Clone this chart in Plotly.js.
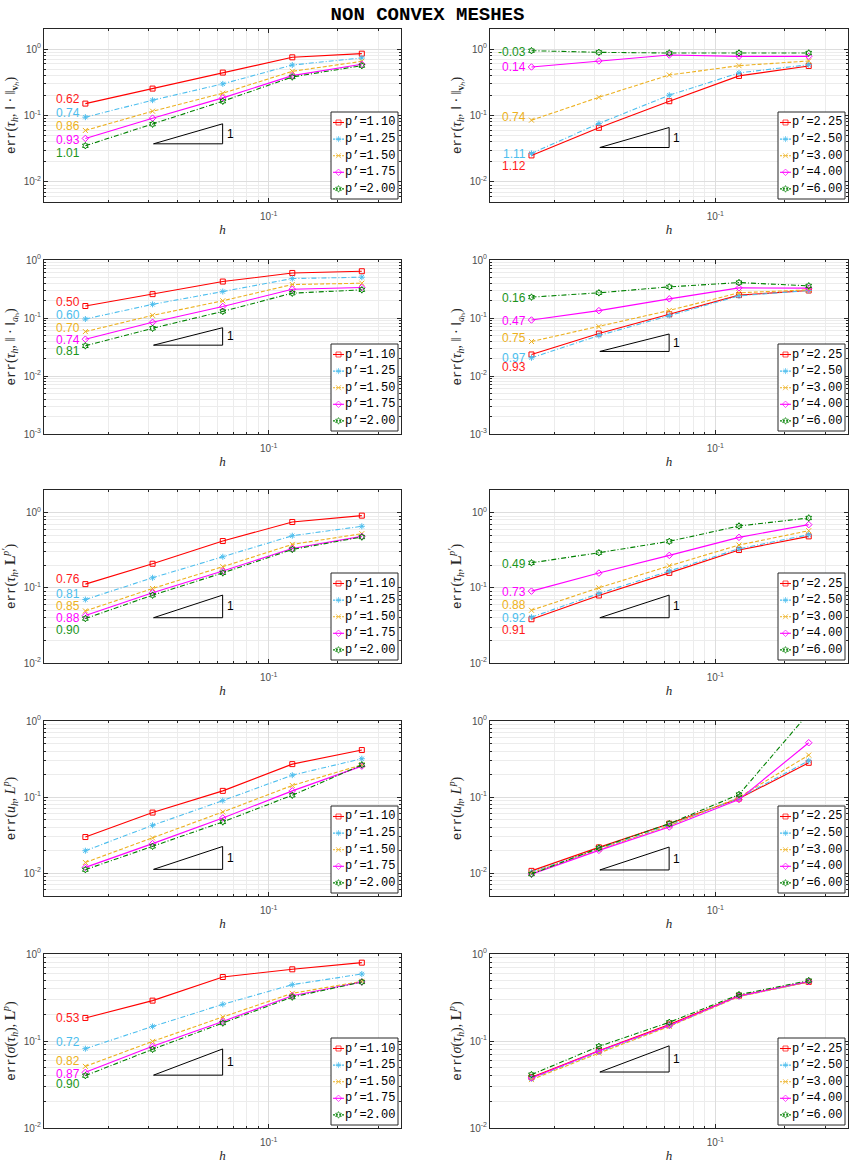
<!DOCTYPE html>
<html>
<head>
<meta charset="utf-8">
<script src="https://cdn.plot.ly/plotly-3.0.1.min.js"></script>
<style>html,body{margin:0;padding:0;background:#fff;}</style>
</head>
<body>
<div id="chart" style="width:855px;height:1164px;"></div>
<script>
// mesh sizes
const h = [0.0159, 0.0312, 0.0631, 0.1267, 0.2545];

// legend names
const lowP  = ['p’=1.10', 'p’=1.25', 'p’=1.50', 'p’=1.75', 'p’=2.00'];
const highP = ['p’=2.25', 'p’=2.50', 'p’=3.00', 'p’=4.00', 'p’=6.00'];

// errors: one row per p' value, one column per mesh size
const errVhLow = [
  [0.151, 0.254, 0.442, 0.750, 0.851],
  [0.0944, 0.170, 0.299, 0.575, 0.733],
  [0.0596, 0.116, 0.216, 0.462, 0.653],
  [0.0452, 0.0912, 0.184, 0.398, 0.589],
  [0.0351, 0.0741, 0.164, 0.380, 0.562]];
const errVhHigh = [
  [0.0251, 0.0653, 0.164, 0.394, 0.556],
  [0.0269, 0.0759, 0.202, 0.437, 0.582],
  [0.0851, 0.188, 0.407, 0.562, 0.661],
  [0.537, 0.661, 0.813, 0.776, 0.776],
  [0.944, 0.891, 0.871, 0.871, 0.871]];
const errAhLow = [
  [0.161, 0.258, 0.425, 0.598, 0.640],
  [0.096, 0.172, 0.286, 0.479, 0.505],
  [0.0583, 0.111, 0.198, 0.378, 0.398],
  [0.0431, 0.0843, 0.158, 0.314, 0.336],
  [0.0331, 0.0665, 0.130, 0.268, 0.306]];
const errAhHigh = [
  [0.0235, 0.0539, 0.116, 0.248, 0.298],
  [0.0206, 0.0498, 0.110, 0.241, 0.298],
  [0.0393, 0.071, 0.135, 0.272, 0.306],
  [0.0924, 0.134, 0.214, 0.331, 0.327],
  [0.229, 0.272, 0.344, 0.408, 0.358]];
const errLpLow = [
  [0.112, 0.209, 0.419, 0.751, 0.912],
  [0.0699, 0.136, 0.259, 0.493, 0.658],
  [0.0493, 0.098, 0.191, 0.378, 0.525],
  [0.0427, 0.0858, 0.167, 0.334, 0.483],
  [0.039, 0.0798, 0.158, 0.324, 0.474]];
const errLpHigh = [
  [0.0382, 0.079, 0.158, 0.318, 0.483],
  [0.0407, 0.084, 0.167, 0.331, 0.509],
  [0.0503, 0.100, 0.196, 0.371, 0.575],
  [0.0903, 0.157, 0.270, 0.469, 0.692],
  [0.215, 0.293, 0.415, 0.664, 0.849]];
const errULow = [
  [0.0298, 0.0625, 0.1206, 0.271, 0.415],
  [0.0197, 0.0425, 0.0899, 0.194, 0.319],
  [0.0138, 0.029, 0.0637, 0.142, 0.265],
  [0.0119, 0.0244, 0.0531, 0.1206, 0.255],
  [0.0111, 0.0225, 0.0471, 0.1057, 0.265]];
const errUHigh = [
  [0.0107, 0.0218, 0.0447, 0.0955, 0.282],
  [0.0103, 0.0209, 0.0425, 0.0975, 0.300],
  [0.0100, 0.0205, 0.0417, 0.0995, 0.356],
  [0.0097, 0.0199, 0.0404, 0.0927, 0.518],
  [0.0097, 0.0214, 0.0447, 0.108, 1.27]];
const errSigLow = [
  [0.184, 0.291, 0.544, 0.667, 0.795],
  [0.0816, 0.147, 0.264, 0.444, 0.589],
  [0.0511, 0.099, 0.189, 0.353, 0.485],
  [0.0436, 0.0868, 0.168, 0.332, 0.477],
  [0.040, 0.0802, 0.161, 0.320, 0.477]];
const errSigHigh = [
  [0.0383, 0.0773, 0.155, 0.332, 0.478],
  [0.037, 0.0747, 0.149, 0.326, 0.478],
  [0.036, 0.0726, 0.147, 0.324, 0.478],
  [0.0376, 0.0766, 0.151, 0.329, 0.482],
  [0.0411, 0.0867, 0.164, 0.341, 0.495]];

// convergence rates printed next to the finest mesh
const rateVhLow   = ['0.62', '0.74', '0.86', '0.93', '1.01'];
const rateVhHigh  = ['1.12', '1.11', '0.74', '0.14', '-0.03'];
const rateAhLow   = ['0.50', '0.60', '0.70', '0.74', '0.81'];
const rateAhHigh  = ['0.93', '0.97', '0.75', '0.47', '0.16'];
const rateLpLow   = ['0.76', '0.81', '0.85', '0.88', '0.90'];
const rateLpHigh  = ['0.91', '0.92', '0.88', '0.73', '0.49'];
const rateSigLow  = ['0.53', '0.72', '0.82', '0.87', '0.90'];

// tick labels
const decadeText = {'0': '10<sup>0</sup>', '-1': '10<sup>-1</sup>', '-2': '10<sup>-2</sup>', '-3': '10<sup>-3</sup>'};
const xTickVals = [0.1];
const xTickText = ['10<sup>-1</sup>'];

// ---------- styling ----------
const W = 855, H = 1164;
const colors  = ['#ff0000', '#4dbeee', '#edb120', '#ff00ff', '#008000'];
const txtCol  = ['#ff1a1a', '#4dbeee', '#edb120', '#ff00ff', '#1a951a'];
const dashes  = ['solid', '5px,2px,1px,2px', '4px,2px', 'solid', '5px,2px,1px,2px'];
const symbols = ['square-open', 'asterisk-open', 'x-thin-open', 'diamond-open', 'hexagram-open'];

const colX = [[44, 401], [490, 848]];
const rowY = [[29, 202], [260, 434], [490, 663], [721, 896], [954, 1128]];
const xRange = [Math.log10(0.0105), Math.log10(0.377)];
const slopeX = [0.0315, 0.063];

// legend box geometry (px)
const LEG = {w: 67, h: 87, inset: 3, first: 10.5, step: 16.6, lineFrom: 2, lineTo: 13, textAt: 12.5};

const mono = "<span style='font-family:Liberation Mono, Courier New, monospace;font-size:12.5px'>err</span>";
const yTitles = [
  mono + '(<i>τ</i><sub><i>h</i></sub>, ‖ · ‖<sub><b>v</b><i>ₕ</i></sub>)',
  mono + '(<i>τ</i><sub><i>h</i></sub>, ‖ · ‖<sub><i>a</i>ₕ</sub>)',
  mono + '(<i>τ</i><sub><i>h</i></sub>, <b>L</b><sup><i>p′</i></sup>)',
  mono + '(<i>u</i><sub><i>h</i></sub>, <i>L</i><sup><i>p</i></sup>)',
  mono + '(<i>σ</i>(<i>τ</i><sub><i>h</i></sub>), <b>L</b><sup><i>p</i></sup>)'
];

// panel layout: data table, rate labels, vertical label offsets (px), y range, slope-triangle base
const panels = [
  {row: 0, col: 0, err: errVhLow,  names: lowP,  rates: rateVhLow,  shift: [4.7, 4, 4, -1.3, -7.3],   yr: [0.005, 2], tri: 0.0375},
  {row: 0, col: 1, err: errVhHigh, names: highP, rates: rateVhHigh, shift: [-10.7, -1, 3, 0, -1],    yr: [0.005, 2], tri: 0.033},
  {row: 1, col: 0, err: errAhLow,  names: lowP,  rates: rateAhLow,  shift: [4, 3.7, 3.3, -1, -5.3],   yr: [0.001, 1], tri: 0.034},
  {row: 1, col: 1, err: errAhHigh, names: highP, rates: rateAhHigh, shift: [-12.7, 0, 4, -1.3, -1],   yr: [0.001, 1], tri: 0.0265},
  {row: 2, col: 0, err: errLpLow,  names: lowP,  rates: rateLpLow,  shift: [5, 6, 5.3, -2, -11.3],    yr: [0.01, 2],  tri: 0.04},
  {row: 2, col: 1, err: errLpHigh, names: highP, rates: rateLpHigh, shift: [-10.7, -0.7, 5, -0.7, -1], yr: [0.01, 2], tri: 0.04},
  {row: 3, col: 0, err: errULow,   names: lowP,  rates: null,       shift: null,                      yr: [0.005, 1], tri: 0.0112},
  {row: 3, col: 1, err: errUHigh,  names: highP, rates: null,       shift: null,                      yr: [0.005, 1], tri: 0.011},
  {row: 4, col: 0, err: errSigLow, names: lowP,  rates: rateSigLow, shift: [0, 6.7, 5.7, -1.3, -8.3], yr: [0.01, 1],  tri: 0.0405},
  {row: 4, col: 1, err: errSigHigh,names: highP, rates: null,       shift: null,                      yr: [0.01, 1],  tri: 0.044}
];

const traces = [];
const legendTraces = [];
const annotations = [];
const layout = {
  width: W, height: H,
  margin: {l: 0, r: 0, t: 0, b: 0},
  paper_bgcolor: '#ffffff', plot_bgcolor: 'rgba(0,0,0,0)',
  showlegend: false,
  title: {
    text: 'NON CONVEX MESHES',
    font: {family: 'Liberation Mono, Courier New, monospace', size: 19, color: '#000000', weight: 'bold'},
    x: 0.5, xanchor: 'center', y: 1 - 13 / H, yanchor: 'middle'
  },
  annotations: annotations
};

function minorVals(lo, hi) {
  const out = [];
  for (let e = Math.floor(Math.log10(lo)); e <= Math.ceil(Math.log10(hi)); e++) {
    for (let m = 2; m <= 9; m++) {
      const v = m * Math.pow(10, e);
      if (v > lo && v < hi) out.push(v);
    }
  }
  return out;
}

// a full-page pixel frame used to draw the legend boxes on top of the panels
const PX = 'x11', PY = 'y11';
layout.xaxis11 = {domain: [0, 1], range: [0, W], visible: false, fixedrange: true, anchor: PY};
layout.yaxis11 = {domain: [0, 1], range: [H, 0], visible: false, fixedrange: true, anchor: PX};

panels.forEach((p, k) => {
  const n = k + 1;
  const xa = 'xaxis' + (n === 1 ? '' : n);
  const ya = 'yaxis' + (n === 1 ? '' : n);
  const xr = 'x' + (n === 1 ? '' : n);
  const yr = 'y' + (n === 1 ? '' : n);
  const [x0, x1] = colX[p.col];
  const [y0, y1] = rowY[p.row];

  const common = {
    type: 'log', showline: true, linecolor: '#262626', linewidth: 1, mirror: 'ticks',
    ticks: 'inside', ticklen: 4, tickcolor: '#262626', tickwidth: 1,
    showgrid: true, gridcolor: '#dddddd', gridwidth: 1, zeroline: false,
    tickfont: {family: 'Liberation Sans, Arial, sans-serif', size: 10, color: '#4d4d4d'},
    tickmode: 'array', fixedrange: true
  };

  const eLo = Math.ceil(Math.log10(p.yr[0]) - 1e-9), eHi = Math.floor(Math.log10(p.yr[1]) + 1e-9);
  const yv = [], yt = [];
  for (let e = eLo; e <= eHi; e++) { yv.push(Math.pow(10, e)); yt.push(decadeText[String(e)]); }

  layout[xa] = Object.assign({}, common, {
    domain: [x0 / W, x1 / W], anchor: yr, range: xRange,
    tickvals: xTickVals, ticktext: xTickText, ticklabelstandoff: 5,
    minor: {tickmode: 'array', tickvals: minorVals(0.0105, 0.377), ticks: 'inside', ticklen: 2,
            tickcolor: '#262626', showgrid: true, gridcolor: '#ececec', gridwidth: 1},
    title: {text: '<i>h</i>', font: {family: 'Liberation Serif, serif', size: 13, color: '#262626'}, standoff: 3}
  });
  layout[ya] = Object.assign({}, common, {
    domain: [1 - y1 / H, 1 - y0 / H], anchor: xr,
    range: [Math.log10(p.yr[0]), Math.log10(p.yr[1])],
    tickvals: yv, ticktext: yt,
    minor: {tickmode: 'array', tickvals: minorVals(p.yr[0], p.yr[1]), ticks: 'inside', ticklen: 2,
            tickcolor: '#262626', showgrid: true, gridcolor: '#ececec', gridwidth: 1},
    title: {text: yTitles[p.row], font: {family: 'Liberation Serif, serif', size: 14, color: '#262626'}, standoff: 4}
  });

  p.err.forEach((vals, i) => {
    traces.push({
      type: 'scatter', mode: 'lines+markers', x: h, y: vals, name: p.names[i],
      xaxis: xr, yaxis: yr,
      line: {color: colors[i], width: 1.1, dash: dashes[i]},
      marker: {symbol: symbols[i], size: 5, color: colors[i], line: {color: colors[i], width: 1}},
      hoverinfo: 'skip'
    });
  });

  // slope-one reference triangle
  const ratio = slopeX[1] / slopeX[0];
  traces.push({
    type: 'scatter', mode: 'lines', hoverinfo: 'skip',
    x: [slopeX[0], slopeX[1], slopeX[1], slopeX[0]],
    y: [p.tri, p.tri, p.tri * ratio, p.tri],
    xaxis: xr, yaxis: yr, line: {color: '#000000', width: 1}
  });
  annotations.push({
    xref: xr, yref: yr, x: Math.log10(slopeX[1]), y: Math.log10(p.tri * Math.sqrt(ratio)),
    text: '1', showarrow: false, xanchor: 'left', yanchor: 'middle', xshift: 2,
    font: {family: 'Liberation Sans, Arial, sans-serif', size: 12, color: '#000000'}
  });

  if (p.rates) {
    p.rates.forEach((r, i) => {
      annotations.push({
        xref: xr, yref: yr, x: Math.log10(h[0]), y: Math.log10(p.err[i][0]),
        text: r, showarrow: false, xanchor: 'right', yanchor: 'middle',
        xshift: -4, yshift: p.shift[i], borderpad: 0,
        font: {family: 'Liberation Sans, Arial, sans-serif', size: 12, color: txtCol[i]}
      });
    });
  }

  // legend box in the lower right corner of the panel
  const bx1 = x1 - LEG.inset, by1 = y1 - LEG.inset;
  const bx0 = bx1 - LEG.w, by0 = by1 - LEG.h;
  legendTraces.push({
    type: 'scatter', mode: 'lines', hoverinfo: 'skip', xaxis: PX, yaxis: PY,
    x: [bx0, bx1, bx1, bx0, bx0], y: [by0, by0, by1, by1, by0],
    fill: 'toself', fillcolor: '#ffffff', line: {color: '#262626', width: 1}
  });
  p.names.forEach((nm, i) => {
    const ly = by0 + LEG.first + i * LEG.step;
    const la = bx0 + LEG.lineFrom, lb = bx0 + LEG.lineTo;
    legendTraces.push({
      type: 'scatter', mode: 'lines+markers', hoverinfo: 'skip', xaxis: PX, yaxis: PY,
      x: [la, (la + lb) / 2, lb], y: [ly, ly, ly],
      line: {color: colors[i], width: 1.1, dash: i === 0 || i === 3 ? 'solid' : '2px,1px'},
      marker: {symbol: symbols[i], size: [0, 5, 0], color: colors[i], line: {color: colors[i], width: 1}}
    });
    annotations.push({
      xref: 'paper', yref: 'paper', x: (bx0 + LEG.textAt) / W, y: 1 - ly / H,
      text: nm, showarrow: false, xanchor: 'left', yanchor: 'middle', borderpad: 0,
      font: {family: 'Liberation Mono, Courier New, monospace', size: 12, color: '#000000'}
    });
  });
});

Plotly.newPlot('chart', traces.concat(legendTraces), layout, {staticPlot: true, displayModeBar: false});
</script>
</body>
</html>
